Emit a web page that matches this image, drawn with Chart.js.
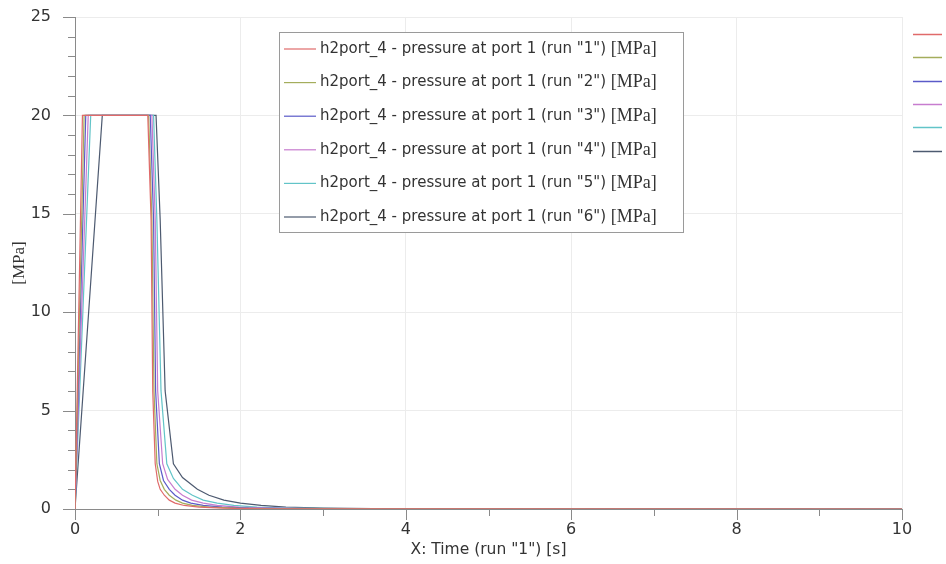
<!DOCTYPE html>
<html>
<head>
<meta charset="utf-8">
<script src="https://cdn.jsdelivr.net/npm/chart.js@4/dist/chart.umd.min.js"></script>
<style>
  html, body { margin: 0; padding: 0; background: #fff; }
  #wrap { width: 946px; height: 564px; }
</style>
</head>
<body>
<div id="wrap"><canvas id="pressureChart" width="946" height="564"></canvas></div>
<script>
// values: time [s] and pressure [MPa] per run
const run1T = [0, 0.09, 0.88, 0.92, 0.94, 0.97, 1.0, 1.03, 1.08, 1.14, 1.21, 1.32, 1.5, 1.8, 2.2, 10];
const run1P = [0, 20, 20, 14.7, 6, 2.3, 1.4, 1.0, 0.7, 0.45, 0.3, 0.18, 0.1, 0.04, 0.01, 0];
const run2T = [0, 0.11, 0.89, 0.93, 0.955, 0.99, 1.03, 1.08, 1.14, 1.22, 1.3, 1.42, 1.62, 1.95, 2.4, 10];
const run2P = [0, 20, 20, 14.7, 6, 2.3, 1.45, 1.0, 0.7, 0.45, 0.3, 0.18, 0.1, 0.04, 0.01, 0];
const run3T = [0, 0.13, 0.91, 0.95, 0.975, 1.02, 1.07, 1.14, 1.21, 1.3, 1.4, 1.55, 1.78, 2.1, 2.6, 10];
const run3P = [0, 20, 20, 14.7, 6, 2.3, 1.45, 1.0, 0.7, 0.45, 0.3, 0.18, 0.1, 0.045, 0.015, 0];
const run4T = [0, 0.16, 0.93, 0.97, 1.0, 1.06, 1.12, 1.21, 1.3, 1.41, 1.55, 1.72, 1.98, 2.35, 2.9, 10];
const run4P = [0, 20, 20, 14.7, 6, 2.3, 1.5, 1.0, 0.7, 0.45, 0.3, 0.18, 0.1, 0.05, 0.02, 0];
const run5T = [0, 0.19, 0.95, 0.99, 1.04, 1.11, 1.19, 1.3, 1.42, 1.55, 1.72, 1.92, 2.2, 2.6, 3.2, 10];
const run5P = [0, 20, 20, 14.7, 6, 2.3, 1.55, 1.0, 0.7, 0.45, 0.3, 0.18, 0.1, 0.05, 0.02, 0];
const run6T = [0, 0.33, 0.98, 1.03, 1.09, 1.19, 1.3, 1.48, 1.62, 1.8, 2.0, 2.25, 2.55, 3.0, 3.6, 10];
const run6P = [0, 20, 20, 14.7, 6, 2.3, 1.6, 1.0, 0.7, 0.45, 0.3, 0.18, 0.1, 0.05, 0.02, 0];

const runNames = ['1', '2', '3', '4', '5', '6'];
const runColors = ['#e06a6a', '#a4ad5c', '#5a5ac8', '#c77ccf', '#62c4c8', '#4d5a70'];
const unitLabel = '[MPa]';
const xTitle = 'X: Time (run "1") [s]';

const xMajor = [0, 2, 4, 6, 8, 10];
const yMajor = [0, 5, 10, 15, 20, 25];

const times = [run1T, run2T, run3T, run4T, run5T, run6T];
const pressures = [run1P, run2P, run3P, run4P, run5P, run6P];

const datasets = runNames.map((r, i) => ({
    label: 'h2port_4 - pressure at port 1 (run "' + r + '")',
    data: times[i].map((t, k) => ({ x: t, y: pressures[i][k] })),
    borderColor: runColors[i],
    borderWidth: 1.2,
    pointRadius: 0,
    fill: false,
    tension: 0
}));

const sansFont = '"DejaVu Sans", Verdana, sans-serif';
const serifFont = '"Liberation Serif", "DejaVu Serif", serif';

// tick marks (long for labelled ticks, short for minor ones)
const tickMarks = {
    id: 'tickMarks',
    afterDraw(chart) {
        const ctx = chart.ctx;
        const xs = chart.scales.x, ys = chart.scales.y;
        const area = chart.chartArea;
        ctx.save();
        ctx.strokeStyle = '#8a8a8a';
        ctx.lineWidth = 1;
        ys.ticks.forEach(t => {
            const py = Math.round(ys.getPixelForValue(t.value)) + 0.5;
            const len = yMajor.includes(t.value) ? 12 : 7;
            ctx.beginPath();
            ctx.moveTo(area.left - len, py);
            ctx.lineTo(area.left, py);
            ctx.stroke();
        });
        xs.ticks.forEach(t => {
            const px = Math.round(xs.getPixelForValue(t.value)) + 0.5;
            const len = xMajor.includes(t.value) ? 11 : 7;
            ctx.beginPath();
            ctx.moveTo(px, area.bottom);
            ctx.lineTo(px, area.bottom + len);
            ctx.stroke();
        });
        ctx.restore();
    }
};

// boxed legend inside the plot plus the short colour keys at the right edge
const boxLegend = {
    id: 'boxLegend',
    afterDraw(chart) {
        const ctx = chart.ctx;
        const area = chart.chartArea;
        const bx = area.left + 204, by = area.top + 15, bw = 404, bh = 200;
        ctx.save();
        ctx.fillStyle = '#ffffff';
        ctx.fillRect(bx, by, bw, bh);
        ctx.strokeStyle = '#9a9a9a';
        ctx.lineWidth = 1;
        ctx.strokeRect(bx + 0.5, by + 0.5, bw, bh);
        ctx.textBaseline = 'middle';
        chart.data.datasets.forEach((ds, i) => {
            const cy = by + 17 + i * 33.6;
            ctx.strokeStyle = ds.borderColor;
            ctx.lineWidth = 1.2;
            ctx.beginPath();
            ctx.moveTo(bx + 5, cy);
            ctx.lineTo(bx + 37, cy);
            ctx.stroke();
            ctx.fillStyle = '#333';
            ctx.font = '15px ' + sansFont;
            ctx.fillText(ds.label, bx + 41, cy);
            const w = ctx.measureText(ds.label + ' ').width;
            ctx.font = '18px ' + serifFont;
            ctx.fillText(unitLabel, bx + 41 + w, cy);

            // right-edge key
            const ky = area.top + 17 + i * 23.3;
            ctx.beginPath();
            ctx.moveTo(area.right + 11, Math.round(ky) + 0.5);
            ctx.lineTo(area.right + 40, Math.round(ky) + 0.5);
            ctx.lineWidth = 1.5;
            ctx.stroke();
        });
        ctx.restore();
    }
};

new Chart(document.getElementById('pressureChart').getContext('2d'), {
    type: 'line',
    data: { datasets: datasets },
    options: {
        responsive: false,
        animation: false,
        layout: { padding: { top: 17, right: 44, left: 0, bottom: 0 } },
        plugins: {
            legend: { display: false },
            tooltip: { enabled: false }
        },
        scales: {
            x: {
                type: 'linear',
                min: 0,
                max: 10,
                afterFit: s => { s.height = 55; s.paddingLeft = 0; s.paddingRight = 0; },
                ticks: {
                    stepSize: 1,
                    autoSkip: false,
                    maxRotation: 0,
                    padding: 0,
                    color: '#333',
                    font: { family: sansFont, size: 16 },
                    callback: v => (xMajor.includes(v) ? String(v) : '')
                },
                grid: {
                    color: ctx => (ctx.tick && xMajor.includes(ctx.tick.value) && ctx.tick.value !== 0 ? '#ececec' : 'rgba(0,0,0,0)'),
                    tickColor: 'rgba(0,0,0,0)',
                    tickLength: 11
                },
                border: { color: '#8a8a8a' },
                title: {
                    display: true,
                    text: xTitle,
                    color: '#333',
                    font: { family: sansFont, size: 15.5 },
                    padding: { top: 0, bottom: 5 }
                }
            },
            y: {
                type: 'linear',
                min: 0,
                max: 25,
                afterFit: s => { s.width = 75; s.paddingTop = 0; s.paddingBottom = 0; },
                ticks: {
                    stepSize: 1,
                    autoSkip: false,
                    padding: 12,
                    color: '#333',
                    font: { family: sansFont, size: 16 },
                    callback: v => (yMajor.includes(v) ? String(v) : '')
                },
                grid: {
                    color: ctx => (ctx.tick && yMajor.includes(ctx.tick.value) && ctx.tick.value !== 0 ? '#ececec' : 'rgba(0,0,0,0)'),
                    tickColor: 'rgba(0,0,0,0)',
                    tickLength: 12
                },
                border: { color: '#8a8a8a' },
                title: {
                    display: true,
                    text: unitLabel,
                    color: '#333',
                    font: { family: serifFont, size: 17 },
                    padding: { top: 9, bottom: 0 }
                }
            }
        }
    },
    plugins: [tickMarks, boxLegend]
});
</script>
</body>
</html>
